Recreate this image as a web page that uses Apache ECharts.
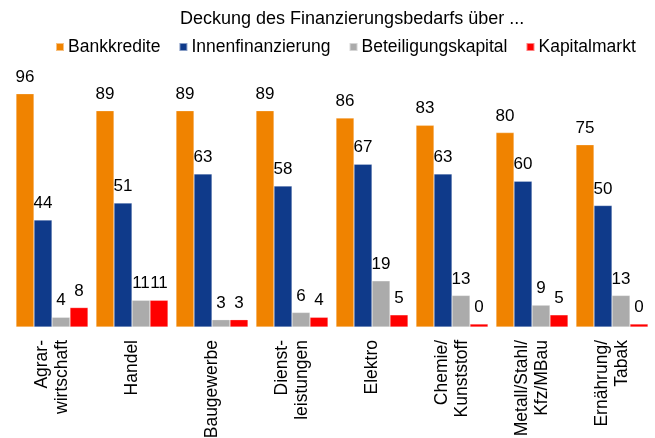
<!DOCTYPE html>
<html lang="de">
<head>
    <meta charset="UTF-8">
    <title>Finanzierungsbedarf</title>
    <script src="https://cdn.jsdelivr.net/npm/echarts@6/dist/echarts.min.js"></script>
</head>
<body style="margin:0">
    <div id="main" style="width:655px;height:438px;"></div>
</body>
<script>
// Branchen
var categories = ['Agrar-\nwirtschaft', 'Handel', 'Baugewerbe', 'Dienst-\nleistungen', 'Elektro',
    'Chemie/\nKunststoff', 'Metall/Stahl/\nKfz/MBau', 'Ernährung/\nTabak'];
var seriesNames = ['Bankkredite', 'Innenfinanzierung', 'Beteiligungskapital', 'Kapitalmarkt'];
var bankkredite = [96, 89, 89, 89, 86, 83, 80, 75];
var innenfinanzierung = [44, 51, 63, 58, 67, 63, 60, 50];
var beteiligungskapital = [4, 11, 3, 6, 19, 13, 9, 13];
var kapitalmarkt = [8, 11, 3, 4, 5, 0, 5, 0];

var colors = ['#f08300', '#0f3a8a', '#ababab', '#ff0000'];
var font = 'Liberation Sans, Arial, sans-serif';

function makeSeries(name, data) {
    return {
        name: name,
        type: 'bar',
        data: data,
        barGap: '0%',
        barCategoryGap: '10%',
        barMinHeight: 3,
        itemStyle: {
            borderColor: 'rgba(255,255,255,0.5)',
            borderWidth: 0.5
        },
        label: {
            show: true,
            position: 'top',
            distance: 8,
            color: '#000',
            fontSize: 17,
            fontFamily: font
        }
    };
}

var chart = echarts.init(document.getElementById('main'));
chart.setOption({
    backgroundColor: '#ffffff',
    color: colors,
    animation: false,
    title: {
        text: 'Deckung des Finanzierungsbedarfs über ...',
        left: 175,
        top: 5,
        textStyle: {
            color: '#000',
            fontSize: 18,
            fontWeight: 'normal',
            fontFamily: font
        }
    },
    legend: {
        left: 50,
        top: 33,
        icon: 'rect',
        itemWidth: 8,
        itemHeight: 8,
        itemGap: 18,
        textStyle: {
            color: '#000',
            fontSize: 17.5,
            fontFamily: font,
            padding: [0, 0, 0, -1]
        },
        data: seriesNames
    },
    grid: {
        left: 12,
        right: 3,
        top: 84,
        bottom: 111,
        outerBoundsMode: 'none'
    },
    xAxis: {
        type: 'category',
        data: categories,
        axisLine: { show: false },
        axisTick: { show: false },
        axisLabel: {
            rotate: 90,
            interval: 0,
            margin: 13,
            color: '#000',
            fontSize: 17.5,
            lineHeight: 20,
            fontFamily: font
        }
    },
    yAxis: {
        type: 'value',
        min: 0,
        max: 100,
        show: false,
        splitLine: { show: false }
    },
    series: [
        makeSeries(seriesNames[0], bankkredite),
        makeSeries(seriesNames[1], innenfinanzierung),
        makeSeries(seriesNames[2], beteiligungskapital),
        makeSeries(seriesNames[3], kapitalmarkt)
    ]
});
</script>
</html>
